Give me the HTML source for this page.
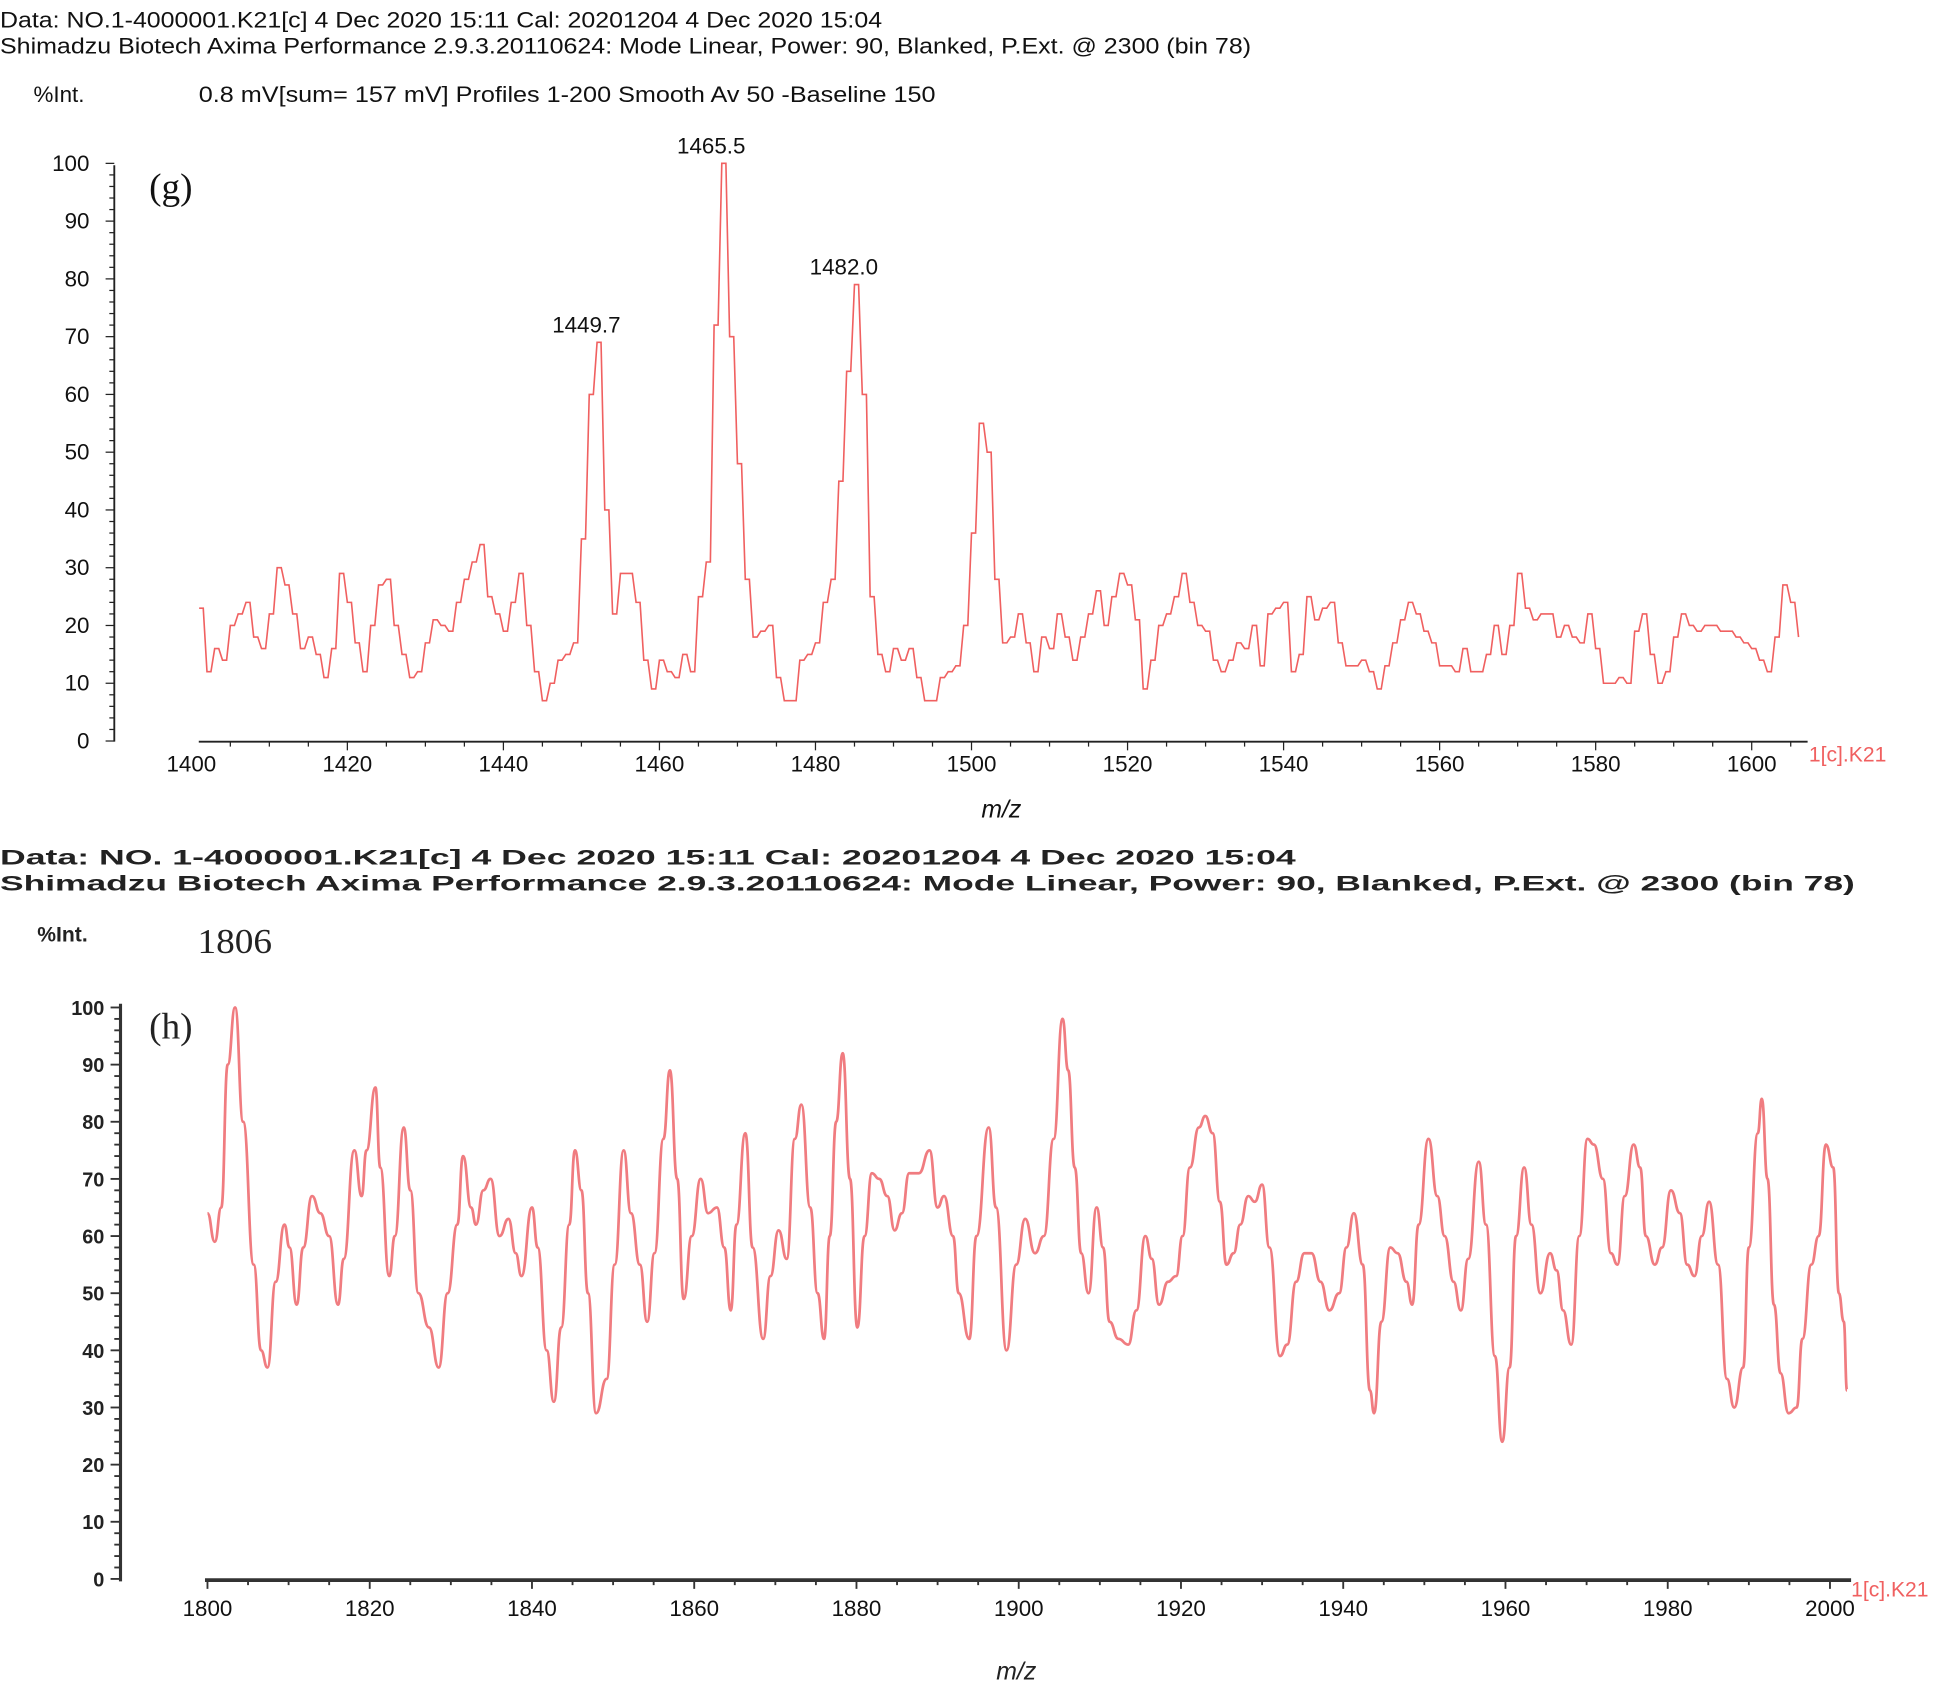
<!DOCTYPE html>
<html><head><meta charset="utf-8"><style>
html,body{margin:0;padding:0;background:#fff}
svg{display:block}
</style></head><body>
<svg id="s" width="1948" height="1687" viewBox="0 0 1568 1358" preserveAspectRatio="none" xmlns="http://www.w3.org/2000/svg" font-family="Liberation Sans, sans-serif">
<g font-size="18" fill="#111">
<text x="0" y="22" textLength="710" lengthAdjust="spacingAndGlyphs">Data: NO.1-4000001.K21[c] 4 Dec 2020 15:11 Cal: 20201204 4 Dec 2020 15:04</text>
<text x="0" y="43" textLength="1007" lengthAdjust="spacingAndGlyphs">Shimadzu Biotech Axima Performance 2.9.3.20110624: Mode Linear, Power: 90, Blanked, P.Ext. @ 2300 (bin 78)</text>
<text x="27" y="82">%Int.</text>
<text x="160" y="82" textLength="593" lengthAdjust="spacingAndGlyphs">0.8 mV[sum= 157 mV]  Profiles 1-200 Smooth Av 50 -Baseline 150</text>
<text x="120" y="160" font-family="Liberation Serif, serif" font-size="30">(g)</text>
<text x="806" y="658" font-style="italic" font-size="20" text-anchor="middle">m/z</text>
<text x="1456" y="613" fill="#f06060" font-size="17">1[c].K21</text>
</g>
<g font-size="17" font-weight="bold" fill="#222">
<text x="0" y="696" textLength="1043" lengthAdjust="spacingAndGlyphs">Data: NO. 1-4000001.K21[c] 4 Dec 2020 15:11 Cal: 20201204 4 Dec 2020 15:04</text>
<text x="0" y="717" textLength="1493" lengthAdjust="spacingAndGlyphs">Shimadzu Biotech Axima Performance 2.9.3.20110624: Mode Linear, Power: 90, Blanked, P.Ext. @ 2300 (bin 78)</text>
<text x="30" y="758">%Int.</text>
<text x="159" y="767" font-family="Liberation Serif, serif" font-weight="normal" font-size="28" textLength="60" lengthAdjust="spacingAndGlyphs">1806</text>
<text x="120" y="836" font-family="Liberation Serif, serif" font-weight="normal" font-size="30">(h)</text>
<text x="818" y="1352" font-style="italic" font-weight="normal" font-size="20" text-anchor="middle">m/z</text>
<text x="1490" y="1285" fill="#f06060" font-weight="normal" font-size="17">1[c].K21</text>
</g>
<g id="gg"></g><g id="gh"></g>
</svg>
<script>
// Panel g data
const gStart = 1401;
const gValues = [23,12,16,14,20,22,24,18,16,22,30,27,22,16,18,15,11,16,29,24,17,12,20,27,28,20,15,11,12,17,21,20,19,24,28,31,34,25,22,19,24,29,20,12,7,10,14,15,17,35,60,69,40,22,29,29,24,14,9,14,12,11,15,12,25,31,72,100,70,48,28,18,19,20,11,7,7,14,15,17,24,28,45,64,79,60,25,15,12,16,14,16,11,7,7,11,12,13,20,36,55,50,28,17,18,22,17,12,18,16,22,18,14,18,22,26,20,25,29,27,21,9,14,20,22,25,29,24,20,19,14,12,14,17,16,20,13,22,23,24,12,15,25,21,23,24,17,13,13,14,12,9,13,17,21,24,22,19,17,13,13,12,16,12,12,15,20,15,20,29,23,21,22,22,18,20,18,17,22,16,10,10,11,10,19,22,15,10,12,18,22,20,19,20,20,19,19,18,17,16,14,12,18,27,24,18];
const gXTicks = [1400,1420,1440,1460,1480,1500,1520,1540,1560,1580,1600];
const gYTicks = [0,10,20,30,40,50,60,70,80,90,100];
const gPeakMz = [1449.7,1465.5,1482.0];
const gPeakAt = [1450,1466,1483];
const gPeakVal = [69,100,79];
// Panel h data
const hMz = [1800.0,1800.9,1801.7,1802.5,1803.4,1804.4,1805.7,1806.6,1807.4,1808.4,1809.5,1810.1,1811.0,1811.8,1812.9,1813.9,1815.0,1816.1,1816.8,1818.1,1819.0,1819.6,1820.7,1821.3,1822.4,1823.1,1824.2,1825.0,1826.0,1827.3,1828.5,1829.6,1830.8,1831.5,1832.5,1833.1,1834.0,1834.9,1836.0,1837.1,1838.0,1838.7,1840.0,1840.7,1841.8,1842.7,1843.6,1844.6,1845.3,1846.1,1846.9,1847.9,1849.2,1850.2,1851.3,1852.2,1853.3,1854.2,1855.1,1856.2,1857.0,1857.9,1858.7,1859.7,1860.8,1861.7,1862.8,1863.7,1864.5,1865.2,1866.3,1867.2,1868.5,1869.4,1870.4,1871.4,1872.4,1873.2,1874.3,1875.2,1876.0,1876.7,1877.5,1878.3,1879.2,1880.1,1881.0,1881.9,1882.8,1883.8,1884.7,1885.6,1886.5,1887.7,1889.0,1890.0,1890.8,1891.9,1892.6,1893.9,1894.8,1896.3,1897.2,1898.5,1899.7,1900.8,1902.0,1903.1,1904.3,1905.4,1906.1,1906.9,1907.7,1908.6,1909.6,1910.4,1911.2,1912.3,1913.5,1914.5,1915.6,1916.4,1917.3,1918.4,1919.4,1920.2,1921.1,1922.2,1923.0,1923.9,1924.8,1925.6,1926.5,1927.3,1928.3,1929.1,1930.0,1930.9,1932.2,1933.1,1934.2,1935.2,1936.1,1937.2,1938.3,1939.5,1940.4,1941.3,1942.4,1943.3,1943.8,1944.7,1945.8,1946.7,1947.8,1948.5,1949.3,1950.5,1951.6,1952.5,1953.6,1954.5,1955.4,1956.7,1957.6,1958.7,1959.6,1960.5,1961.3,1962.3,1963.2,1964.3,1965.5,1966.3,1967.1,1968.1,1969.1,1970.1,1970.9,1972.0,1973.0,1973.8,1974.7,1975.8,1976.6,1977.3,1978.4,1979.3,1980.4,1981.5,1982.4,1983.3,1984.2,1985.1,1986.2,1987.3,1988.2,1989.3,1990.0,1991.1,1991.6,1992.3,1993.1,1993.9,1994.9,1995.9,1996.6,1997.7,1998.6,1999.5,2000.4,2001.1,2001.7,2002.1];
const hValues = [64,59,65,90,100,80,55,40,37,52,62,58,48,58,67,64,60,48,56,75,67,75,86,72,53,60,79,68,50,44,37,50,62,74,65,62,68,70,60,63,57,53,65,58,40,31,44,62,75,68,50,29,35,55,75,64,55,45,57,77,89,70,49,60,70,64,65,58,47,62,78,58,42,53,61,56,77,83,65,50,42,60,80,92,70,44,60,71,70,67,61,64,71,71,75,65,67,60,50,42,60,79,65,40,55,63,57,60,77,98,89,72,57,50,65,58,45,42,41,47,60,56,48,52,53,60,72,79,81,78,66,55,57,62,67,66,69,58,39,41,52,57,57,52,47,50,58,64,55,33,29,45,58,57,52,48,62,77,67,60,52,47,56,73,62,39,24,37,60,72,62,50,57,54,47,41,60,77,76,70,57,55,67,76,72,60,55,58,68,64,55,53,60,66,55,35,30,37,58,78,84,70,48,36,29,30,42,55,60,76,72,50,45,33];
const hXTicks = [1800,1820,1840,1860,1880,1900,1920,1940,1960,1980,2000];
const hYTicks = [0,10,20,30,40,50,60,70,80,90,100];

const NS="http://www.w3.org/2000/svg";
function mk(tag,attrs,parent){const e=document.createElementNS(NS,tag);for(const k in attrs)e.setAttribute(k,attrs[k]);parent.appendChild(e);return e;}

// panel g scales
const gx = m => 154 + (m-1400)*6.28;
const gy = v => 596.5 - v*4.65;
const G=document.getElementById('gg');
let ax=mk('line',{x1:92,y1:133,x2:92,y2:597,stroke:'#222','stroke-width':1.5},G);

for(let v=0;v<=100;v+=2){const t=mk('line',{x1:v%10==0?85:88,y1:gy(v),x2:92,y2:gy(v),stroke:'#222','stroke-width':1},G);
}
gYTicks.forEach(v=>{const t=mk('text',{x:72,y:gy(v)+6,'text-anchor':'end','font-size':18,fill:'#111'},G);t.textContent=v;
});
ax=mk('line',{x1:160,y1:597,x2:1455,y2:597,stroke:'#222','stroke-width':1.5},G);

for(let m=1405;m<=1605;m+=5){const t=mk('line',{x1:gx(m),y1:597,x2:gx(m),y2:m%20==0?604:601,stroke:'#222','stroke-width':1},G);
}
gXTicks.forEach(m=>{const t=mk('text',{x:gx(m),y:621,'text-anchor':'middle','font-size':18,fill:'#111'},G);t.textContent=m;
});
let pts=[];gValues.forEach((v,i)=>{const x=gx(gStart+i);if(i>0)pts.push((x-3).toFixed(1)+','+gy(gValues[i-1]).toFixed(1));pts.push(x.toFixed(1)+','+gy(v).toFixed(1));});
let pl=mk('polyline',{points:pts.join(' '),fill:'none',stroke:'#f06060','stroke-width':1.3},G);

gPeakMz.forEach((m,i)=>{const t=mk('text',{x:gx(gPeakAt[i])+4,y:gy(gPeakVal[i])-8,'text-anchor':'middle','font-size':18,fill:'#111'},G);t.textContent=m.toFixed(1);
});

// panel h scales
const hx = m => 167 + (m-1800)*6.53;
const hy = v => 1271 - v*4.6;
const H=document.getElementById('gh');
ax=mk('line',{x1:97,y1:808,x2:97,y2:1273,stroke:'#333','stroke-width':2.5},H);

for(let v=0;v<=100;v+=2){const t=mk('line',{x1:v%10==0?89:92,y1:hy(v),x2:97,y2:hy(v),stroke:'#333','stroke-width':1.5},H);
}
hYTicks.forEach(v=>{const t=mk('text',{x:84,y:hy(v)+6,'text-anchor':'end','font-size':16,'font-weight':'bold',fill:'#222'},H);t.textContent=v;
});
ax=mk('line',{x1:165,y1:1272,x2:1490,y2:1272,stroke:'#333','stroke-width':3},H);

for(let m=1800;m<=2003;m+=5){const t=mk('line',{x1:hx(m),y1:1272,x2:hx(m),y2:m%20==0?1279:1276,stroke:'#333','stroke-width':1.5},H);
}
hXTicks.forEach(m=>{const t=mk('text',{x:hx(m),y:1301,'text-anchor':'middle','font-size':18,fill:'#111'},H);t.textContent=m;
});
let d='M'+hx(hMz[0]).toFixed(1)+','+hy(hValues[0]).toFixed(1);
for(let i=1;i<hMz.length;i++){const x0=hx(hMz[i-1]),x1=hx(hMz[i]),xm=(x0+x1)/2;
d+=' C'+xm.toFixed(1)+','+hy(hValues[i-1]).toFixed(1)+' '+xm.toFixed(1)+','+hy(hValues[i]).toFixed(1)+' '+x1.toFixed(1)+','+hy(hValues[i]).toFixed(1);}
pl=mk('path',{d:d,fill:'none',stroke:'#f07c80','stroke-width':2.2},H);

</script>
</body></html>
